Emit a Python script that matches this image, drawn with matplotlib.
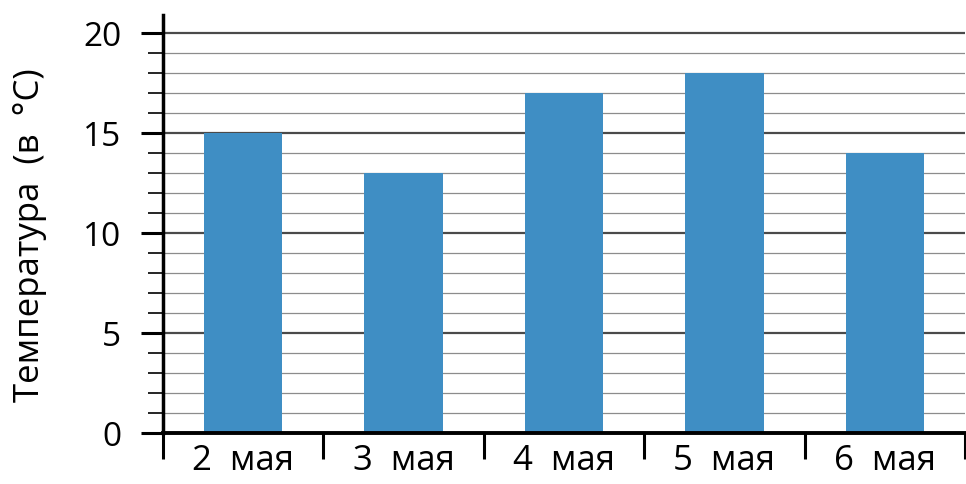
import matplotlib.pyplot as plt
import numpy as np

# Данные: температура по дням
days = ['2  мая', '3  мая', '4  мая', '5  мая', '6  мая']
temps = [15, 13, 17, 18, 14]
y_major = [0, 5, 10, 15, 20]

plt.rcParams['font.family'] = ['Open Sans', 'DejaVu Sans']

fig = plt.figure(figsize=(9.66, 4.84), dpi=100)
ax = fig.add_axes([163 / 966, 51 / 484, 802 / 966, 418 / 484])

x = np.arange(len(days)) + 0.5
ax.bar(x, temps, width=0.49, color='#3f8ec4', zorder=3)

ax.set_xlim(0, len(days))
ax.set_ylim(0, 20.9)

# горизонтальная сетка через 1 градус
for v in range(1, 21):
    major = v % 5 == 0
    ax.axhline(v, color='#4a4a4a' if major else '#8c8c8c',
               lw=1.6 if major else 0.9, zorder=1)

# оси
for s in ['top', 'right']:
    ax.spines[s].set_visible(False)
ax.spines['left'].set_linewidth(2.5)
ax.spines['bottom'].set_linewidth(2.8)
ax.spines['left'].set_zorder(4)
ax.spines['bottom'].set_zorder(4)

# деления по y
ax.set_yticks(y_major)
ax.set_yticks(range(0, 21), minor=True)
ax.tick_params(axis='y', which='major', length=16, width=2.2, pad=14, labelsize=24)
ax.tick_params(axis='y', which='minor', length=11, width=1.2)

# деления по x - границы категорий, подписи по центру
ax.set_xticks(np.arange(len(days) + 1))
ax.set_xticklabels([])
ax.set_xticks(x, minor=True)
ax.set_xticklabels(days, minor=True)
ax.tick_params(axis='x', which='major', length=19, width=2.2, direction='out')
ax.tick_params(axis='x', which='minor', length=0, pad=8, labelsize=25)

ax.set_ylabel('Температура  (в  °С)', fontsize=25)
ax.yaxis.set_label_coords(-0.166, 0.474)
ax.yaxis.label.set_va('center')

fig.savefig('out.png', dpi=100)
